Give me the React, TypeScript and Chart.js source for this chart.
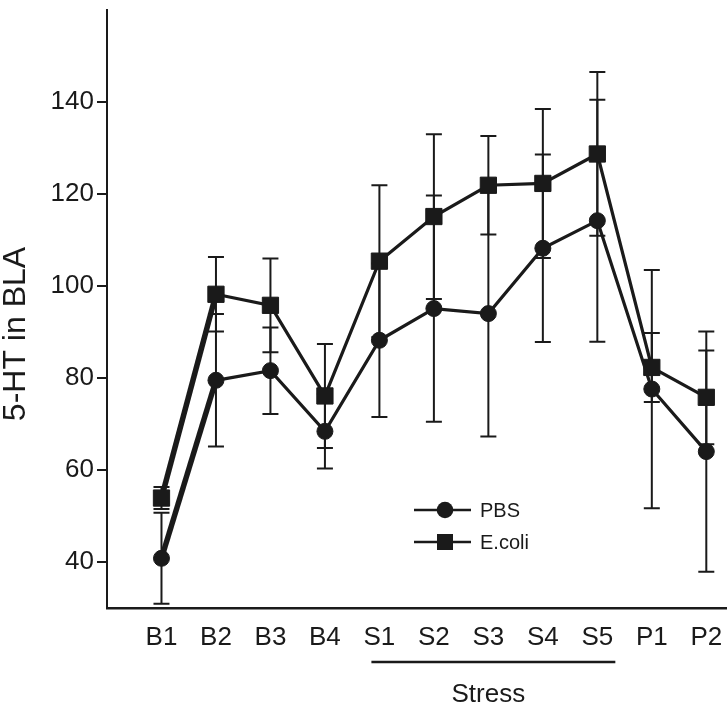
import React, { useEffect, useRef } from "react";
import { Chart, registerables } from "chart.js";

Chart.register(...registerables);

const categories = ["B1", "B2", "B3", "B4", "S1", "S2", "S3", "S4", "S5", "P1", "P2"];
const pbsMean = [40.8, 79.5, 81.6, 68.4, 88.2, 95.1, 94.0, 108.2, 114.2, 77.6, 64.0];
const pbsErr = [9.9, 14.4, 9.4, 8.1, 16.7, 24.6, 26.7, 20.4, 26.3, 25.9, 26.1];
const ecoliMean = [53.9, 98.2, 95.8, 76.1, 105.4, 115.1, 121.9, 122.3, 128.7, 82.3, 75.8];
const ecoliErr = [2.4, 8.1, 10.2, 11.3, 16.5, 17.9, 10.7, 16.2, 17.8, 7.5, 10.2];
const yTicks = [40, 60, 80, 100, 120, 140];
const seriesNames = ["PBS", "E.coli"];
const stressRange = ["S1", "S5"];
const yTitle = "5-HT in BLA";
const groupTitle = "Stress";

const INK = "#1a1a1a";
const FONT = "'Liberation Sans', Arial, sans-serif";

const errorsByDataset = [pbsErr, ecoliErr];

const errorBarPlugin = {
  id: "errorBars",
  beforeDatasetsDraw(chart: any) {
    const { ctx } = chart;
    const xs = chart.scales.x;
    const ys = chart.scales.y;
    ctx.save();
    ctx.strokeStyle = INK;
    ctx.lineWidth = 2;
    chart.data.datasets.forEach((ds: any, di: number) => {
      const errs = errorsByDataset[di];
      ds.data.forEach((pt: any, i: number) => {
        const px = xs.getPixelForValue(pt.x);
        const top = ys.getPixelForValue(pt.y + errs[i]);
        const bot = ys.getPixelForValue(pt.y - errs[i]);
        ctx.beginPath();
        ctx.moveTo(px, top);
        ctx.lineTo(px, bot);
        ctx.moveTo(px - 8, top);
        ctx.lineTo(px + 8, top);
        ctx.moveTo(px - 8, bot);
        ctx.lineTo(px + 8, bot);
        ctx.stroke();
      });
    });
    ctx.restore();
  },
};

const annotationsPlugin = {
  id: "annotations",
  afterDraw(chart: any) {
    const { ctx } = chart;
    const xs = chart.scales.x;
    ctx.save();
    // Y axis title
    ctx.fillStyle = INK;
    ctx.font = `32px ${FONT}`;
    ctx.translate(25, 334);
    ctx.rotate(-Math.PI / 2);
    ctx.textAlign = "center";
    ctx.textBaseline = "alphabetic";
    ctx.fillText(yTitle, 0, 0);
    ctx.restore();

    // Stress bracket
    const i1 = categories.indexOf(stressRange[0]) + 1;
    const i2 = categories.indexOf(stressRange[1]) + 1;
    const x1 = xs.getPixelForValue(i1) - 8;
    const x2 = xs.getPixelForValue(i2) + 18;
    ctx.save();
    ctx.strokeStyle = INK;
    ctx.lineWidth = 2.5;
    ctx.beginPath();
    ctx.moveTo(x1, 662);
    ctx.lineTo(x2, 662);
    ctx.stroke();
    ctx.fillStyle = INK;
    ctx.font = `26px ${FONT}`;
    ctx.textAlign = "center";
    ctx.textBaseline = "alphabetic";
    ctx.fillText(groupTitle, (x1 + x2) / 2 - 5, 702);
    ctx.restore();

    // Legend
    ctx.save();
    chart.data.datasets.forEach((ds: any, di: number) => {
      const ly = 510 + di * 32;
      ctx.strokeStyle = INK;
      ctx.lineWidth = 2.5;
      ctx.beginPath();
      ctx.moveTo(414, ly);
      ctx.lineTo(471, ly);
      ctx.stroke();
      ctx.fillStyle = INK;
      if (ds.pointStyle === "rect") {
        ctx.fillRect(445 - 8, ly - 8, 16, 16);
      } else {
        ctx.beginPath();
        ctx.arc(445, ly, 8.3, 0, Math.PI * 2);
        ctx.fill();
      }
      ctx.font = `20px ${FONT}`;
      ctx.textAlign = "left";
      ctx.textBaseline = "middle";
      ctx.fillText(ds.label, 480, ly + 1);
    });
    ctx.restore();
  },
};

export default function App() {
  const ref = useRef<HTMLCanvasElement | null>(null);

  useEffect(() => {
    if (!ref.current) return;
    const segWidth = (c: any) => (c.p0DataIndex === 0 ? 5.5 : 3.2);
    const chart = new Chart(ref.current, {
      type: "line",
      data: {
        datasets: [
          {
            label: seriesNames[0],
            data: pbsMean.map((v, i) => ({ x: i + 1, y: v })),
            borderColor: INK,
            backgroundColor: INK,
            borderWidth: 3.2,
            pointStyle: "circle",
            pointRadius: 8,
            pointBorderWidth: 1,
            pointBackgroundColor: INK,
            pointBorderColor: INK,
            segment: { borderWidth: segWidth },
          },
          {
            label: seriesNames[1],
            data: ecoliMean.map((v, i) => ({ x: i + 1, y: v })),
            borderColor: INK,
            backgroundColor: INK,
            borderWidth: 3.2,
            pointStyle: "rect",
            pointRadius: 11.5,
            pointBorderWidth: 1,
            pointBackgroundColor: INK,
            pointBorderColor: INK,
            segment: { borderWidth: segWidth },
          },
        ],
      } as any,
      plugins: [errorBarPlugin, annotationsPlugin],
      options: {
        animation: false,
        responsive: false,
        maintainAspectRatio: false,
        layout: { autoPadding: false, padding: { top: 10, right: 0, left: 0, bottom: 0 } },
        plugins: { legend: { display: false }, tooltip: { enabled: false } },
        scales: {
          x: {
            type: "linear",
            min: 0,
            max: 11.38,
            afterFit: (axis: any) => {
              axis.height = 94;
              axis.paddingLeft = 0;
              axis.paddingRight = 0;
            },
            afterBuildTicks: (axis: any) => {
              axis.ticks = categories.map((_, i) => ({ value: i + 1 }));
            },
            grid: { display: false, drawTicks: false },
            border: { display: true, color: INK, width: 2.5 },
            ticks: {
              autoSkip: false,
              maxRotation: 0,
              padding: 14,
              color: INK,
              font: { family: FONT, size: 26 },
              callback: (v: any) => categories[Math.round(v) - 1] ?? "",
            },
          },
          y: {
            type: "linear",
            min: 30,
            max: 160,
            afterFit: (axis: any) => {
              axis.width = 107;
              axis.paddingTop = 0;
              axis.paddingBottom = 0;
            },
            afterBuildTicks: (axis: any) => {
              axis.ticks = yTicks.map((v) => ({ value: v }));
            },
            grid: {
              display: true,
              drawOnChartArea: false,
              drawTicks: true,
              tickLength: 10,
              color: INK,
              lineWidth: 2,
            },
            border: { display: true, color: INK, width: 2 },
            ticks: {
              padding: 3,
              color: INK,
              font: { family: FONT, size: 26 },
            },
          },
        },
      } as any,
    });
    return () => chart.destroy();
  }, []);

  return (
    <div style={{ position: "fixed", left: 0, top: 0, width: 727, height: 702, background: "#fff" }}>
      <canvas ref={ref} width={727} height={702} style={{ width: 727, height: 702, display: "block" }} />
    </div>
  );
}
